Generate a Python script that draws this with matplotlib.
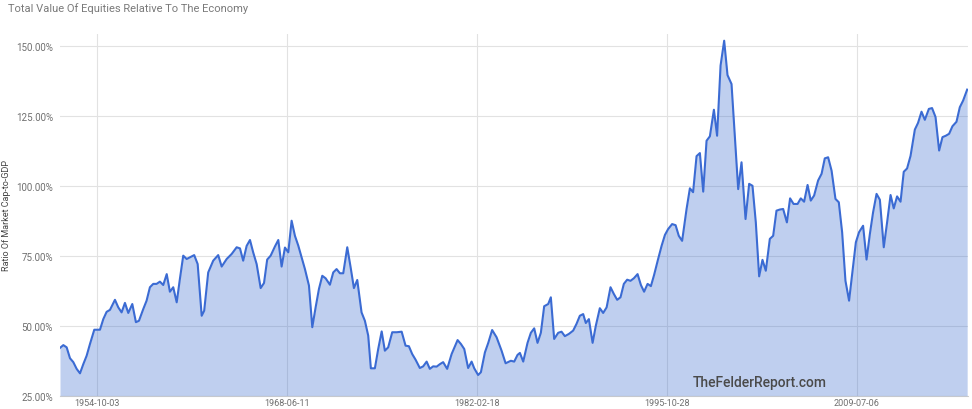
import numpy as np
from matplotlib import pyplot as plt

# Market cap to GDP (decimal year, percent).
years = [
	1952.09, 1952.33, 1952.57, 1952.81, 1953.05, 1953.29, 1953.53, 1953.77, 1954.01, 1954.25,
	1954.56, 1954.97, 1955.21, 1955.45, 1955.69, 1956.05, 1956.29, 1956.53, 1956.77, 1957.01,
	1957.30, 1957.56, 1957.78, 1958.09, 1958.33, 1958.57, 1958.81, 1959.05, 1959.29, 1959.53,
	1959.78, 1960.01, 1960.25, 1960.50, 1960.73, 1960.97, 1961.22, 1961.45, 1961.76, 1962.01,
	1962.30, 1962.48, 1962.77, 1963.13, 1963.49, 1963.74, 1964.10, 1964.46, 1964.82, 1965.06,
	1965.29, 1965.54, 1965.78, 1966.01, 1966.26, 1966.55, 1966.79, 1967.02, 1967.27, 1967.58,
	1967.82, 1968.06, 1968.30, 1968.54, 1968.78, 1969.02, 1969.26, 1969.50, 1969.74, 1970.03,
	1970.27, 1970.51, 1970.75, 1970.99, 1971.23, 1971.54, 1971.78, 1972.02, 1972.26, 1972.50,
	1972.79, 1973.03, 1973.27, 1973.51, 1973.82, 1974.06, 1974.30, 1974.49, 1974.78, 1975.02,
	1975.27, 1975.50, 1975.74, 1976.03, 1976.35, 1976.71, 1976.99, 1977.23, 1977.47, 1977.71,
	1978.02, 1978.26, 1978.51, 1978.74, 1978.98, 1979.23, 1979.47, 1979.70, 1979.99, 1980.31,
	1980.74, 1980.98, 1981.22, 1981.50, 1981.75, 1981.94, 1982.22, 1982.42, 1982.71, 1982.95,
	1983.23, 1983.55, 1983.91, 1984.20, 1984.58, 1984.82, 1985.06, 1985.23, 1985.47, 1985.78,
	1986.02, 1986.26, 1986.50, 1986.74, 1986.98, 1987.27, 1987.46, 1987.70, 1987.99, 1988.23,
	1988.47, 1988.76, 1989.07, 1989.31, 1989.55, 1989.79, 1989.98, 1990.20, 1990.47, 1990.70,
	1990.99, 1991.23, 1991.48, 1991.76, 1992.00, 1992.24, 1992.48, 1992.72, 1992.96, 1993.20,
	1993.44, 1993.71, 1993.95, 1994.18, 1994.43, 1994.67, 1994.90, 1995.17, 1995.44, 1995.68,
	1995.91, 1996.20, 1996.45, 1996.68, 1996.92, 1997.24, 1997.48, 1997.71, 1997.96, 1998.20,
	1998.44, 1998.68, 1998.92, 1999.21, 1999.44, 1999.69, 1999.95, 2000.19, 2000.48, 2000.72,
	2000.96, 2001.20, 2001.49, 2001.75, 2001.99, 2002.23, 2002.47, 2002.71, 2002.95, 2003.24,
	2003.48, 2003.72, 2003.96, 2004.20, 2004.47, 2004.70, 2004.95, 2005.24, 2005.47, 2005.71,
	2005.96, 2006.19, 2006.43, 2006.72, 2006.97, 2007.20, 2007.44, 2007.69, 2007.97, 2008.21,
	2008.45, 2008.69, 2008.95, 2009.20, 2009.44, 2009.67, 2009.96, 2010.21, 2010.45, 2010.68,
	2010.93, 2011.17, 2011.45, 2011.69, 2011.94, 2012.17, 2012.41, 2012.66, 2012.89, 2013.13,
	2013.38, 2013.69, 2013.92, 2014.17, 2014.41, 2014.70, 2014.93, 2015.18, 2015.44, 2015.68,
	2015.92, 2016.16, 2016.40, 2016.69, 2016.93, 2017.17, 2017.46]

ratio = [
	42.1, 43.1, 42.3, 38.4, 37.0, 34.6, 33.0, 36.3, 39.3, 43.5,
	48.6, 48.6, 52.4, 55.0, 55.7, 59.3, 56.6, 54.8, 58.2, 54.6,
	57.8, 51.3, 51.8, 56.0, 59.0, 63.8, 65.0, 65.0, 65.8, 64.6,
	68.5, 62.2, 63.8, 58.4, 66.8, 75.1, 73.9, 74.5, 75.3, 72.1,
	53.6, 55.4, 69.1, 73.3, 75.3, 71.2, 73.9, 75.7, 78.1, 77.7,
	73.3, 78.6, 80.7, 76.3, 72.1, 63.5, 65.3, 73.7, 75.1, 78.4,
	80.7, 71.2, 78.0, 76.3, 87.6, 82.2, 78.7, 74.5, 70.3, 64.4,
	49.5, 56.6, 63.2, 67.9, 67.0, 64.7, 69.1, 70.3, 68.8, 68.8,
	78.1, 71.0, 63.5, 66.4, 54.8, 51.8, 46.5, 34.8, 34.8, 41.7,
	48.0, 41.1, 42.3, 47.7, 47.7, 47.9, 42.9, 42.7, 39.9, 37.9,
	34.9, 35.5, 37.2, 34.6, 35.5, 35.4, 36.3, 37.0, 34.6, 39.9,
	44.9, 43.5, 41.7, 34.9, 37.2, 34.8, 32.4, 33.4, 40.5, 43.9,
	48.5, 45.9, 41.1, 36.6, 37.5, 37.2, 39.6, 40.3, 37.2, 43.9,
	47.5, 49.1, 43.9, 47.5, 57.0, 57.8, 60.2, 45.3, 47.5, 47.9,
	46.3, 47.1, 48.3, 50.7, 53.6, 54.2, 51.0, 52.4, 43.9, 50.0,
	56.3, 54.6, 56.6, 63.8, 61.4, 59.3, 60.2, 65.0, 66.5, 66.1,
	67.0, 68.5, 64.6, 62.2, 65.0, 64.2, 68.2, 73.5, 78.6, 82.5,
	84.6, 86.4, 86.0, 82.2, 80.4, 91.8, 99.2, 97.8, 110.7, 111.8,
	98.0, 116.2, 117.8, 127.3, 118.0, 143.1, 152.0, 139.7, 136.5, 118.0,
	98.9, 108.5, 88.2, 100.8, 100.1, 87.0, 67.7, 73.6, 69.7, 81.1,
	82.2, 91.2, 91.6, 91.8, 87.0, 95.6, 93.6, 93.6, 95.6, 94.4,
	100.4, 94.8, 96.6, 102.0, 104.4, 109.9, 110.3, 105.5, 95.4, 94.2,
	83.5, 66.1, 59.0, 69.7, 79.9, 83.5, 85.8, 73.7, 82.9, 90.6,
	97.2, 95.1, 78.1, 87.0, 96.8, 92.0, 96.3, 94.4, 105.1, 106.3,
	110.8, 120.2, 122.6, 126.6, 123.7, 127.6, 127.9, 124.7, 112.7, 117.5,
	118.0, 118.7, 121.4, 123.0, 128.2, 130.6, 134.5]

# Tick dates every 5000 days, as decimal years.
tick_years = [1954.753, 1968.442, 1982.131, 1995.820, 2009.509]
tick_labels = ["1954-10-03", "1968-06-11", "1982-02-18", "1995-10-28", "2009-07-06"]
y_ticks = [25, 50, 75, 100, 125, 150]

plt.rcParams['font.family'] = ['Roboto', 'DejaVu Sans']

fig = plt.figure(figsize=(9.72, 4.10), dpi=100)
ax = fig.add_axes([60/972, 13.3/410, 908/972, 361.7/410])

ax.fill_between(years, 25, ratio, color='#3366cc', alpha=0.31, linewidth=0, zorder=3)
ax.plot(years, ratio, color='#3b6bd3', linewidth=1.5, zorder=4)

ax.set_xlim(1952.09, 2017.52)
ax.set_ylim(25, 154.4)
ax.set_xticks(tick_years)
ax.set_xticklabels(tick_labels)
ax.set_yticks(y_ticks)
ax.set_yticklabels(["%.2f%%" % v for v in y_ticks])
ax.tick_params(length=0, labelsize=7, colors='#6f6f6f', pad=5)
ax.tick_params(axis='x', labelsize=6.5, pad=1.5)
ax.grid(True, color='#e2e2e2', linewidth=0.8, zorder=1)
ax.set_axisbelow(True)
for s in ['top', 'right', 'left']:
	ax.spines[s].set_visible(False)
ax.spines['bottom'].set_color('#cfcfcf')
ax.spines['bottom'].set_linewidth(0.8)

ax.set_ylabel("Ratio Of Market Cap-to-GDP", fontsize=6.5, color='#444444')
ax.yaxis.set_label_coords(-0.0535, 0.5)

fig.text(8/972, 1 - 9/410, "Total Value Of Equities Relative To The Economy",
	fontsize=8, color='#7a7a7a', va='center', ha='left')
fig.text(760/972, 1 - 383/410, "TheFelderReport.com", fontsize=10,
	color='#4a4a4a', va='center', ha='center', fontweight='medium')

fig.savefig("out.png", dpi=100)
